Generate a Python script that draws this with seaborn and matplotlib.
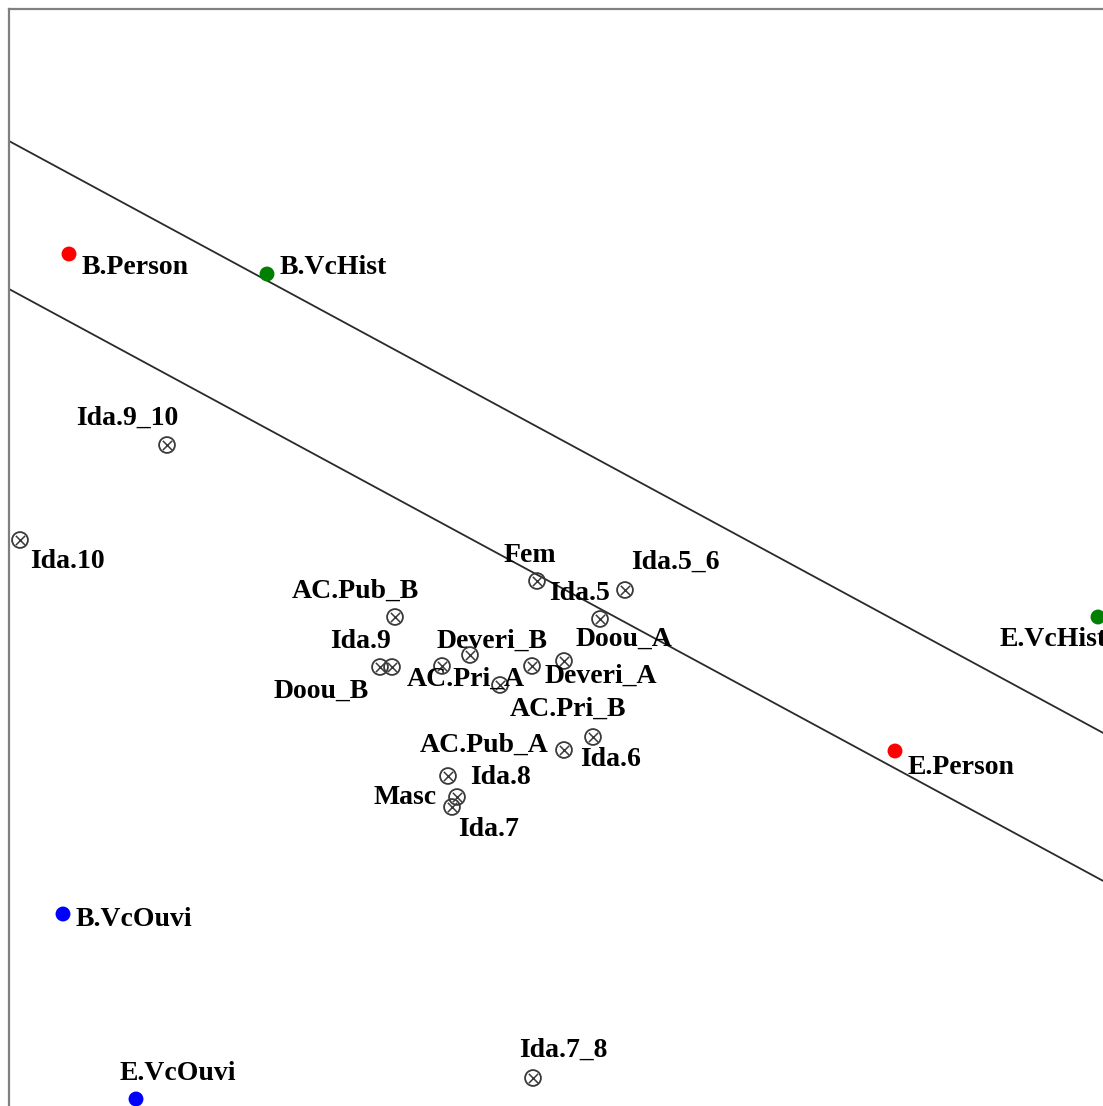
import numpy as np
import pandas as pd
import matplotlib
matplotlib.use("Agg")
import matplotlib.pyplot as plt
import seaborn as sns

# active points (coloured) and supplementary modalities (crossed circles)
act_labels = ["B.Person", "B.VcHist", "E.VcHist", "E.Person", "B.VcOuvi", "E.VcOuvi"]
act_x = [0.69, 2.67, 10.98, 8.95, 0.63, 1.36]
act_y = [8.52, 8.32, 4.89, 3.55, 1.92, 0.07]
act_group = ["Person", "VcHist", "VcHist", "Person", "VcOuvi", "VcOuvi"]

sup_labels = ["Ida.9_10", "Ida.10", "Fem", "Ida.5_6", "Ida.5", "AC.Pub_B", "Ida.9",
              "Doou_B", "Deveri_B", "AC.Pri_A", "Deveri_A", "Doou_A", "AC.Pri_B",
              "Ida.6", "AC.Pub_A", "Ida.8", "Masc", "Ida.7", "Ida.7_8"]
sup_x = [1.67, 0.20, 5.37, 6.25, 6.00, 3.95, 3.80, 3.92, 4.70, 4.42, 5.32, 5.64, 5.00,
         5.93, 5.64, 4.48, 4.57, 4.52, 5.33]
sup_y = [6.61, 5.66, 5.25, 5.16, 4.87, 4.89, 4.39, 4.39, 4.51, 4.40, 4.40, 4.45, 4.21,
         3.69, 3.56, 3.30, 3.09, 2.99, 0.28]

# the two parallel separating lines
line_y0 = [9.65, 8.17]
line_slope = -0.541

# label offsets in pixels (dx right, dy down) from the point
offsets = {
    "B.Person": (13, 13), "B.VcHist": (13, -6), "E.VcHist": (-98, 22),
    "E.Person": (13, 17), "B.VcOuvi": (13, 5), "E.VcOuvi": (-16, -26),
    "Ida.9_10": (-91, -27), "Ida.10": (10, 22), "Fem": (-33, -26),
    "Ida.5_6": (6, -28), "Ida.5": (-51, -26), "AC.Pub_B": (-103, -26),
    "Ida.9": (-50, -26), "Doou_B": (-118, 24), "Deveri_B": (-33, -14),
    "AC.Pri_A": (-35, 13), "Deveri_A": (13, 10), "Doou_A": (12, -22),
    "AC.Pri_B": (10, 24), "Ida.6": (-13, 23), "AC.Pub_A": (-144, -5),
    "Ida.8": (22, 2), "Masc": (-83, 1), "Ida.7": (6, 23), "Ida.7_8": (-14, -28),
}

act = pd.DataFrame({"x": act_x, "y": act_y, "g": act_group, "label": act_labels})
sup = pd.DataFrame({"x": sup_x, "y": sup_y, "label": sup_labels})

sns.set_style("white")
plt.rcParams["font.family"] = ["Liberation Serif", "DejaVu Serif"]

fig = plt.figure(figsize=(11.03, 11.06), dpi=100)
ax = fig.add_axes([9 / 1103, 0, 1.0, 1 - 9 / 1106])

for y0 in line_y0:
    ax.axline((0.09, y0), slope=line_slope, color="#2a2a2a", lw=1.3, zorder=1)

sns.scatterplot(data=act, x="x", y="y", hue="g",
                palette={"Person": "#ff0000", "VcHist": "#008000", "VcOuvi": "#0000ff"},
                s=115, edgecolor="none", legend=False, ax=ax, zorder=3)
sns.scatterplot(data=sup, x="x", y="y", marker="o", s=130, facecolor="none",
                edgecolor="#3a3a3a", linewidth=1.3, ax=ax, zorder=3)
sns.scatterplot(data=sup, x="x", y="y", marker="x", s=45, color="#3a3a3a",
                linewidth=1.1, ax=ax, zorder=3)

for df in (act, sup):
    for _, r in df.iterrows():
        dx, dy = offsets[r["label"]]
        ax.annotate(r["label"], (r["x"], r["y"]), xytext=(dx, -dy),
                    textcoords="offset pixels", ha="left", va="center",
                    fontsize=20, fontweight="bold", color="black", zorder=4)

ax.set_xlim(0.09, 11.12)
ax.set_ylim(0, 10.97)
ax.set_xticks([])
ax.set_yticks([])
ax.set_xlabel("")
ax.set_ylabel("")
for side in ["right", "bottom"]:
    ax.spines[side].set_visible(False)
for side in ["left", "top"]:
    ax.spines[side].set_color("#808080")
    ax.spines[side].set_linewidth(1.6)

fig.savefig("out.png", dpi=100)
